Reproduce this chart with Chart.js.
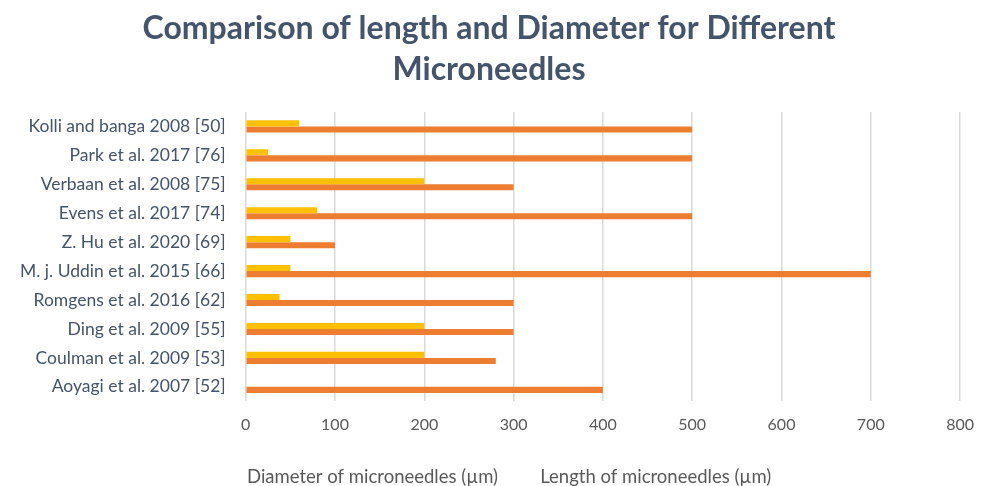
<!DOCTYPE html>
<html>
<head>
<meta charset="utf-8">
<script src="https://cdn.jsdelivr.net/npm/chart.js@4"></script>
<style>
  body { margin: 0; background: #fff; }
  #wrap { width: 988px; height: 486px; }
</style>
</head>
<body>
<div id="wrap"><canvas id="needleChart"></canvas></div>
<script>
// Studies, top to bottom
var studies = [
    'Kolli and banga 2008 [50]',
    'Park et al. 2017 [76]',
    'Verbaan et al. 2008 [75]',
    'Evens et al. 2017 [74]',
    'Z. Hu et al. 2020 [69]',
    'M. j. Uddin et al. 2015 [66]',
    'Romgens et al. 2016 [62]',
    'Ding et al. 2009 [55]',
    'Coulman et al. 2009 [53]',
    'Aoyagi et al. 2007 [52]'
];
var diameterUm = [60, 25, 200, 80, 50, 50, 38, 200, 200, 0];
var lengthUm = [500, 500, 300, 500, 100, 700, 300, 300, 280, 400];
var xTicks = [0, 100, 200, 300, 400, 500, 600, 700, 800];

var FONT = 'Lato, "Open Sans", sans-serif';

document.addEventListener('DOMContentLoaded', function () {
    var ctx = document.getElementById('needleChart').getContext('2d');
    new Chart(ctx, {
        type: 'bar',
        data: {
            labels: studies,
            datasets: [{
                label: 'Diameter of microneedles (µm)',
                data: diameterUm,
                backgroundColor: '#FFC000',
                borderWidth: 0
            }, {
                label: 'Length of microneedles (µm)',
                data: lengthUm,
                backgroundColor: '#ED7D31',
                borderWidth: 0
            }]
        },
        options: {
            indexAxis: 'y',
            responsive: true,
            maintainAspectRatio: false,
            animation: false,
            datasets: {
                bar: { categoryPercentage: 0.42, barPercentage: 1.0 }
            },
            layout: { padding: { left: 8, right: 18, top: 4, bottom: -10 } },
            plugins: {
                title: {
                    display: true,
                    text: ['Comparison of length and Diameter for Different', 'Microneedles'],
                    color: '#44546A',
                    font: { family: FONT, size: 32, weight: 'bold', lineHeight: 1.28 },
                    padding: { top: 4, bottom: 22 }
                },
                legend: {
                    position: 'bottom',
                    labels: {
                        color: '#595959',
                        font: { family: FONT, size: 18.5 },
                        boxWidth: 31,
                        boxHeight: 8,
                        padding: 2,
                        generateLabels: function (chart) {
                            return chart.data.datasets.map(function (ds, i) {
                                return {
                                    text: ds.label,
                                    fillStyle: 'rgba(0,0,0,0)',
                                    strokeStyle: 'rgba(0,0,0,0)',
                                    lineWidth: 0,
                                    fontColor: '#595959',
                                    datasetIndex: i
                                };
                            });
                        }
                    }
                },
                tooltip: { enabled: false }
            },
            scales: {
                x: {
                    min: 0,
                    max: 800,
                    afterBuildTicks: function (axis) {
                        axis.ticks = xTicks.map(function (v) { return { value: v }; });
                    },
                    afterFit: function (axis) {
                        axis.height += 17;
                    },
                    grid: { color: '#D9D9D9', lineWidth: 1.5, drawTicks: false },
                    border: { display: false },
                    ticks: {
                        color: '#595959',
                        font: { family: FONT, size: 16 },
                        padding: 14
                    }
                },
                y: {
                    grid: { display: false },
                    border: { display: false },
                    ticks: {
                        color: '#44546A',
                        font: { family: FONT, size: 17.5 },
                        padding: 12
                    }
                }
            }
        }
    });
});
</script>
</body>
</html>
